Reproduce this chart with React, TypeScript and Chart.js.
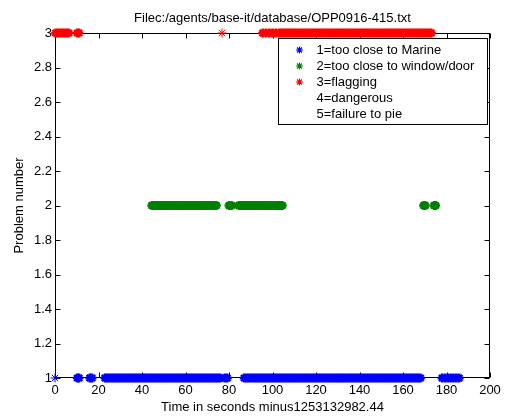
import React, { useEffect, useRef } from 'react';
import { Chart, registerables } from 'chart.js';

Chart.register(...registerables);

const titleText = 'Filec:/agents/base-it/database/OPP0916-415.txt';
const xAxisLabel = 'Time in seconds minus1253132982.44';
const yAxisLabel = 'Problem number';

const xTicks = [0, 20, 40, 60, 80, 100, 120, 140, 160, 180, 200];
const yTicks = [1, 1.2, 1.4, 1.6, 1.8, 2, 2.2, 2.4, 2.6, 2.8, 3];

const legendLabels = [
  '1=too close to Marine',
  '2=too close to window/door',
  '3=flagging',
  '4=dangerous',
  '5=failure to pie',
];
const seriesColors = ['#0000ff', '#008000', '#ff0000'];
const problemNumbers = [1, 2, 3];

// Problem 1: too close to Marine (seconds)
const problem1Times = [
  0, 10.3, 11, 16, 17,
  23, 24, 25, 26, 27, 28, 29, 30, 31, 32, 33, 34, 35, 36, 37, 38, 39, 40, 41, 42, 43, 44, 45, 46, 47, 48,
  49, 50, 51, 52, 53, 54, 55, 56, 57, 58, 59, 60, 61, 62, 63, 64, 65, 66, 67, 68, 69, 70, 71, 72, 73, 74,
  75, 76, 78, 79.2,
  87, 88, 89, 90, 91, 92, 93, 94, 95, 96, 97, 98, 99, 100, 101, 102, 103, 104, 105, 106, 107, 108, 109,
  110, 111, 112, 113, 114, 115, 116, 117, 118, 119, 120, 121, 122, 123, 124, 125, 126, 127, 128, 129,
  130, 131, 132, 133, 134, 135, 136, 137, 138, 139, 140, 141, 142, 143, 144, 145, 146, 147, 148, 149,
  150, 151, 152, 153, 154, 155, 156, 157, 158, 159, 160, 161, 162, 163, 164, 165, 166, 167, 168,
  178, 179.3, 180.6, 181.9, 183.2, 184.5, 185.8,
];

// Problem 2: too close to window/door (seconds)
const problem2Times = [
  44.5, 45.5, 46.5, 47.5, 48.5, 49.5, 50.5, 51.5, 52.5, 53.5, 54.5, 55.5, 56.5, 57.5, 58.5, 59.5, 60.5,
  61.5, 62.5, 63.5, 64.5, 65.5, 66.5, 67.5, 68.5, 69.5, 70.5, 71.5, 72.5, 73.5, 74.2,
  80, 81.2,
  84.5, 85.5, 86.5, 87.5, 88.5, 89.5, 90.5, 91.5, 92.5, 93.5, 94.5, 95.5, 96.5, 97.5, 98.5, 99.5, 100.5,
  101.5, 102.5, 103.5, 104.5,
  169.5, 170.2, 174.3, 175,
];

// Problem 3: flagging (seconds)
const problem3Times = [
  0.3, 1.3, 2.3, 3.3, 4.3, 5.3, 6.3, 10.3, 11,
  76.8,
  95.5, 97, 98.5, 100, 101.5,
  103, 104, 105, 106, 107, 108, 109, 110, 111, 112, 113, 114, 115, 116, 117, 118, 119, 120, 121, 122,
  123, 124, 125, 126, 127, 128, 129, 130, 131, 132, 133, 134, 135, 136, 137, 138, 139, 140, 141, 142,
  143, 144, 145, 146, 147, 148, 149, 150, 151, 152, 153, 154, 155, 156, 157, 158, 159, 160, 161, 162,
  163, 164, 165, 166, 167, 168, 169, 170, 171, 172, 173,
];

const problemTimes = [problem1Times, problem2Times, problem3Times];

const FONT = '"Liberation Sans", Arial, Helvetica, sans-serif';

function drawStar(ctx: CanvasRenderingContext2D, x: number, y: number, r: number) {
  const d = r * Math.SQRT1_2;
  ctx.beginPath();
  ctx.moveTo(x - r, y); ctx.lineTo(x + r, y);
  ctx.moveTo(x, y - r); ctx.lineTo(x, y + r);
  ctx.moveTo(x - d, y - d); ctx.lineTo(x + d, y + d);
  ctx.moveTo(x - d, y + d); ctx.lineTo(x + d, y - d);
  ctx.stroke();
}

// thin asterisk for an isolated sample, thicker where samples overlap into a run
function markerWidth(times: number[], idx: number): number {
  const t = times[idx];
  const prev = idx > 0 ? t - times[idx - 1] : Infinity;
  const next = idx < times.length - 1 ? times[idx + 1] - t : Infinity;
  return Math.min(prev, next) > 3 ? 1 : 2.6;
}

const matlabPlugin = {
  id: 'matlabLook',
  beforeDatasetsDraw(chart: any) {
    const { ctx, chartArea: a, scales } = chart;
    const L = Math.round(a.left) + 0.5;
    const R = Math.round(a.right) - 0.5;
    const T = Math.round(a.top) + 0.5;
    const B = Math.round(a.bottom) - 0.5;
    ctx.save();
    ctx.strokeStyle = '#000';
    ctx.lineWidth = 1;
    ctx.strokeRect(L, T, R - L, B - T);
    ctx.beginPath();
    for (const v of xTicks) {
      const px = Math.round(scales.x.getPixelForValue(v)) + 0.5;
      ctx.moveTo(px, B); ctx.lineTo(px, B - 5);
      ctx.moveTo(px, T); ctx.lineTo(px, T + 5);
    }
    for (const v of yTicks) {
      const py = Math.round(scales.y.getPixelForValue(v)) + 0.5;
      ctx.moveTo(L, py); ctx.lineTo(L + 5, py);
      ctx.moveTo(R, py); ctx.lineTo(R - 5, py);
    }
    ctx.stroke();
    ctx.restore();
  },
  afterDatasetsDraw(chart: any) {
    const { ctx } = chart;
    const bx = 278.5, by = 38.5, bw = 209, bh = 86;
    ctx.save();
    ctx.fillStyle = '#fff';
    ctx.fillRect(bx, by, bw, bh);
    ctx.strokeStyle = '#000';
    ctx.lineWidth = 1;
    ctx.strokeRect(bx, by, bw, bh);
    ctx.font = `13px ${FONT}`;
    ctx.textBaseline = 'middle';
    ctx.textAlign = 'left';
    legendLabels.forEach((lab, i) => {
      const y = by + 11.5 + i * 16;
      if (i < seriesColors.length) {
        ctx.strokeStyle = seriesColors[i];
        ctx.lineWidth = 1.2;
        drawStar(ctx, bx + 21, y, 3.5);
      }
      ctx.fillStyle = '#000';
      ctx.fillText(lab, bx + 38, y);
    });
    ctx.restore();
  },
  afterDraw(chart: any) {
    const { ctx, chartArea: a } = chart;
    const cx = (a.left + a.right) / 2;
    const cy = (a.top + a.bottom) / 2;
    ctx.save();
    ctx.fillStyle = '#000';
    ctx.font = `13px ${FONT}`;
    ctx.textAlign = 'center';
    ctx.textBaseline = 'middle';
    ctx.fillText(titleText, cx, 18);
    ctx.fillText(xAxisLabel, cx, 407);
    ctx.translate(19, cy);
    ctx.rotate(-Math.PI / 2);
    ctx.fillText(yAxisLabel, 0, 0);
    ctx.restore();
  },
};

export default function App() {
  const canvasRef = useRef<HTMLCanvasElement | null>(null);

  useEffect(() => {
    document.body.style.margin = '0';
    const canvas = canvasRef.current;
    if (!canvas) return;
    const datasets = problemNumbers.map((p, i) => ({
      label: legendLabels[i],
      data: problemTimes[i].map((t) => ({ x: t, y: p })),
      showLine: false,
      pointStyle: 'star' as const,
      pointRadius: 4.5,
      pointHoverRadius: 4.5,
      pointBorderWidth: (c: any) => markerWidth(problemTimes[i], c.dataIndex),
      pointBorderColor: seriesColors[i],
      pointBackgroundColor: seriesColors[i],
      borderColor: seriesColors[i],
      backgroundColor: seriesColors[i],
      clip: false as any,
    }));
    const chart = new Chart(canvas, {
      type: 'scatter',
      data: { datasets },
      options: {
        animation: false,
        responsive: false,
        maintainAspectRatio: false,
        devicePixelRatio: 1,
        layout: { padding: { left: 0, top: 33, right: 16, bottom: 0 } },
        plugins: {
          legend: { display: false },
          tooltip: { enabled: false },
          title: { display: false },
        },
        scales: {
          x: {
            type: 'linear',
            min: 0,
            max: 200,
            afterBuildTicks: (s: any) => { s.ticks = xTicks.map((v) => ({ value: v })); },
            afterFit: (s: any) => { s.height = 38; },
            grid: { display: false, drawTicks: false },
            border: { display: false },
            ticks: {
              padding: 5,
              color: '#000',
              font: { family: FONT, size: 13 },
              maxRotation: 0,
              autoSkip: false,
              callback: (v: any) => String(v),
            },
          },
          y: {
            type: 'linear',
            min: 1,
            max: 3,
            afterBuildTicks: (s: any) => { s.ticks = yTicks.map((v) => ({ value: v })); },
            afterFit: (s: any) => { s.width = 55; },
            grid: { display: false, drawTicks: false },
            border: { display: false },
            ticks: {
              padding: 3,
              color: '#000',
              font: { family: FONT, size: 13 },
              autoSkip: false,
              callback: (v: any) => String(Math.round(v * 10) / 10),
            },
          },
        },
      },
      plugins: [matlabPlugin],
    });
    return () => chart.destroy();
  }, []);

  return (
    <div style={{ position: 'fixed', left: 0, top: 0, width: 506, height: 416, background: '#fff' }}>
      <canvas ref={canvasRef} width={506} height={416} style={{ width: 506, height: 416 }} />
    </div>
  );
}
